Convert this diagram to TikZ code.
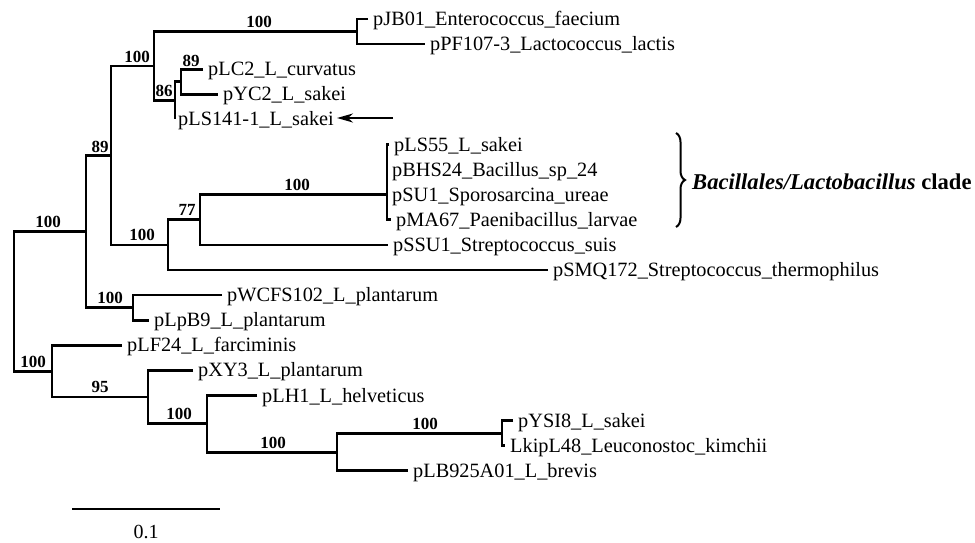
\documentclass[tikz,border=0pt]{standalone}
\usepackage{fontspec}
\setmainfont{Liberation Serif}
\usetikzlibrary{arrows.meta,decorations.pathreplacing}
\begin{document}
\begin{tikzpicture}[x=1pt,y=-1pt,
  branch/.style={line width=2.7pt, line join=miter},
  leaf/.style={anchor=base west, inner sep=0pt, xshift=5pt, yshift=-6.5pt, font=\fontsize{20.3}{24}\selectfont},
  bs/.style={anchor=base, inner sep=0pt, font=\fontsize{17}{20}\selectfont\bfseries},
  cladelabel/.style={anchor=west, inner sep=0pt, font=\fontsize{22.6}{26}\selectfont\bfseries},
  scalelabel/.style={anchor=center, inner sep=0pt, font=\fontsize{20}{24}\selectfont}]
\useasboundingbox (0,0) rectangle (975,542);
% internal nodes
\coordinate (R) at (14,301.4);
\coordinate (N1) at (86,231.6);
\coordinate (N2) at (111,155.5);
\coordinate (N3) at (133,307.65);
\coordinate (N4) at (154,66.1);
\coordinate (N5) at (168,244.9);
\coordinate (N6) at (357,31.55);
\coordinate (N7) at (175,100.6);
\coordinate (N8) at (181,81.75);
\coordinate (N9) at (200,219.8);
\coordinate (N10) at (387,194.7);
\coordinate (N10a) at (387,169.6);
\coordinate (B) at (52,371.2);
\coordinate (N11) at (148,397);
\coordinate (N12) at (207,423.7);
\coordinate (N13) at (337,452.3);
\coordinate (N14) at (502,433.15);
% tips
\coordinate (tJB) at (368,19);
\coordinate (tPF) at (425,44.1);
\coordinate (tLC) at (203,69.2);
\coordinate (tYC) at (218,94.3);
\coordinate (tLS141) at (175,119.4);
\coordinate (tLS55) at (389,144.5);
\coordinate (tBHS) at (387,169.6);
\coordinate (tSU) at (387,194.7);
\coordinate (tMA) at (391,219.8);
\coordinate (tSSU) at (388,244.9);
\coordinate (tSMQ) at (548,270);
\coordinate (tWC) at (222,295.1);
\coordinate (tLpB) at (149,320.2);
\coordinate (tLF) at (122,345.3);
\coordinate (tXY) at (193,370.4);
\coordinate (tLH) at (257,395.5);
\coordinate (tYS) at (513,420.6);
\coordinate (tLk) at (505,445.7);
\coordinate (tLB) at (408,470.8);
% branches
\draw[branch] (N1) -| (R) |- (B);
\draw[branch] (N2) -| (N1) |- (N3);
\draw[branch] (N4) -| (N2) |- (N5);
\draw[branch] (tWC) -| (N3) |- (tLpB);
\draw[branch] (N6) -| (N4) |- (N7);
\draw[branch] (N9) -| (N5) |- (tSMQ);
\draw[branch] (tJB) -| (N6) |- (tPF);
\draw[branch] (N8) -| (N7) |- (tLS141);
\draw[branch] (tLC) -| (N8) |- (tYC);
\draw[branch] (N10) -| (N9) |- (tSSU);
\draw[branch] (tLS55) -| (N10a) |- (tMA);
\draw[branch] (tLF) -| (B) |- (N11);
\draw[branch] (tXY) -| (N11) |- (N12);
\draw[branch] (tLH) -| (N12) |- (N13);
\draw[branch] (N14) -| (N13) |- (tLB);
\draw[branch] (tYS) -| (N14) |- (tLk);
% leaf labels
\node[leaf] (lJB) at (tJB) {pJB01\_Enterococcus\_faecium};
\node[leaf] (lPF) at (tPF) {pPF107-3\_Lactococcus\_lactis};
\node[leaf] (lLC) at (tLC) {pLC2\_L\_curvatus};
\node[leaf] (lYC) at (tYC) {pYC2\_L\_sakei};
\node[leaf, xshift=-2pt] (lLS141) at (tLS141) {pLS141-1\_L\_sakei};
\node[leaf] (lLS55) at (tLS55) {pLS55\_L\_sakei};
\node[leaf] (lBHS) at (tBHS) {pBHS24\_Bacillus\_sp\_24};
\node[leaf] (lSU) at (tSU) {pSU1\_Sporosarcina\_ureae};
\node[leaf] (lMA) at (tMA) {pMA67\_Paenibacillus\_larvae};
\node[leaf] (lSSU) at (tSSU) {pSSU1\_Streptococcus\_suis};
\node[leaf] (lSMQ) at (tSMQ) {pSMQ172\_Streptococcus\_thermophilus};
\node[leaf] (lWC) at (tWC) {pWCFS102\_L\_plantarum};
\node[leaf] (lLpB) at (tLpB) {pLpB9\_L\_plantarum};
\node[leaf] (lLF) at (tLF) {pLF24\_L\_farciminis};
\node[leaf] (lXY) at (tXY) {pXY3\_L\_plantarum};
\node[leaf] (lLH) at (tLH) {pLH1\_L\_helveticus};
\node[leaf] (lYS) at (tYS) {pYSI8\_L\_sakei};
\node[leaf] (lLk) at (tLk) {LkipL48\_Leuconostoc\_kimchii};
\node[leaf] (lLB) at (tLB) {pLB925A01\_L\_brevis};
% bootstrap values
\node[bs] (bN1) at (48,227) {100};
\node[bs] (bB) at (33,367) {100};
\node[bs] (bN2) at (100,152.5) {89};
\node[bs] (bN3) at (110,303.5) {100};
\node[bs] (bN4) at (137,62) {100};
\node[bs] (bN6) at (259,27.5) {100};
\node[bs] (bN7) at (164,96) {86};
\node[bs] (bN8) at (191,66) {89};
\node[bs] (bN5) at (142,240.5) {100};
\node[bs] (bN9) at (187,215.5) {77};
\node[bs] (bN10) at (297,190.5) {100};
\node[bs] (bN11) at (100,392.5) {95};
\node[bs] (bN12) at (179,419.5) {100};
\node[bs] (bN13) at (273,448) {100};
\node[bs] (bN14) at (425,429) {100};
% arrow
\coordinate (arT) at (393,118);
\coordinate (arH) at (337,118);
\draw[line width=2pt, -{Stealth[length=16pt,width=9pt,inset=5pt]}] (arT) -- (arH);
% brace and clade label
\coordinate (brT) at (676,133);
\coordinate (brB) at (676,227);
\draw[line width=2pt, decorate, decoration={brace, amplitude=9pt}] (brT) -- (brB);
\node[cladelabel] (clade) at (692,182) {\itshape Bacillales/Lactobacillus\upshape\ clade};
% scale bar
\coordinate (sb1) at (72,509);
\coordinate (sb2) at (220,509);
\draw[branch] (sb1) -- (sb2);
\node[scalelabel] (sbl) at (146,532) {0.1};
\end{tikzpicture}
\end{document}
